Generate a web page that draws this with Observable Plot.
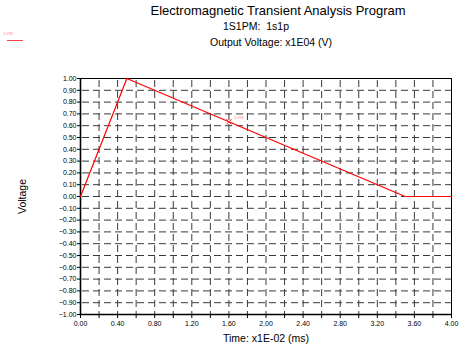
<!DOCTYPE html>
<html><head><meta charset="utf-8">
<script src="https://cdn.jsdelivr.net/npm/d3@7"></script>
<script src="https://cdn.jsdelivr.net/npm/@observablehq/plot@0.6"></script>
<style>
body{margin:0;background:#fff;font-family:"Liberation Sans",Arial,sans-serif;}
#wrap{position:relative;width:460px;height:353px;}
#head{position:relative;width:460px;height:55px;}
.t{position:absolute;white-space:pre;color:#000;transform:translateX(-50%);line-height:1;}
</style></head><body>
<div id="wrap"><div id="head">
<div class="t" style="left:278px;top:4px;font-size:13px">Electromagnetic Transient Analysis Program</div>
<div class="t" style="left:256px;top:21px;font-size:10.5px">1S1PM:  1s1p</div>
<div class="t" style="left:271px;top:37px;font-size:10.5px">Output Voltage: x1E04 (V)</div>
<div style="position:absolute;left:3px;top:31px;font-size:4px;color:#ff8080">1.VW</div>
<div style="position:absolute;left:7px;top:40px;width:16px;height:1px;background:#ff4040"></div>
</div>
<div id="chart"></div></div>
<script>
const timeVals = [0.0, 0.5, 3.5, 4.0];
const voltVals = [0.0, 1.0, 0.0, 0.0];
const markerTime = [1.6];
const markerVolt = [0.633];
const markerLabel = ["1.VW"];
const yTicks = d3.range(-10, 11).map(i => i / 10);
const xTicks = d3.range(0, 21).map(i => i / 5);
const xLabelEvery = 2;

const lineData = timeVals.map((t, i) => ({t, v: voltVals[i]}));
const markData = markerTime.map((t, i) => ({t, v: markerVolt[i], label: markerLabel[i]}));
const gridY = yTicks.filter(v => Math.abs(v) < 0.999);
const gridX = xTicks.filter(v => v > 0.001 && v < 3.999);

const chart = Plot.plot({
  width: 460,
  height: 298,
  marginLeft: 80,
  marginRight: 9,
  marginTop: 23,
  marginBottom: 39,
  style: {fontFamily: "Liberation Sans, Arial, sans-serif", background: "#fff", color: "#000"},
  x: {domain: [0, 4]},
  y: {domain: [-1, 1]},
  marks: [
    Plot.ruleY(gridY, {stroke: "#3a3a3a", strokeWidth: 1, strokeDasharray: "7,4", strokeDashoffset: -2}),
    Plot.ruleX(gridX, {stroke: "#3a3a3a", strokeWidth: 1, strokeDasharray: "7,4", strokeDashoffset: -2}),
    Plot.frame({stroke: "#000", strokeWidth: 1}),
    Plot.ruleX([0], {stroke: "#000", strokeWidth: 1.6}),
    Plot.ruleY([-1], {stroke: "#000", strokeWidth: 1.6}),
    Plot.axisY({ticks: yTicks, tickFormat: d3.format(".2f"), tickSize: 3, tickPadding: 1, fontSize: 7,
      label: "Voltage", labelAnchor: "center", labelArrow: "none", labelOffset: 62}),
    Plot.axisX({ticks: xTicks, tickFormat: (d, i) => (Math.round(d * 5) % xLabelEvery === 0 ? d3.format(".2f")(d) : ""),
      tickSize: 4, tickPadding: 3, fontSize: 7,
      label: "Time: x1E-02 (ms)", labelAnchor: "center", labelArrow: "none", labelOffset: 27}),
    Plot.line(lineData, {x: "t", y: "v", stroke: "#ff0000", strokeWidth: 1.2}),
    Plot.dot(markData, {x: "t", y: "v", symbol: "times", r: 2.5, stroke: "#ff2020", strokeWidth: 1}),
    Plot.text(markData, {x: "t", y: "v", text: "label", dx: 5, dy: -4, fontSize: 4, fill: "#ff8080", textAnchor: "start"})
  ]
});
chart.querySelectorAll("g[aria-label='y-axis label'] text, g[aria-label='x-axis label'] text").forEach(t => t.setAttribute("font-size", "10.5"));
document.getElementById("chart").appendChild(chart);
</script>
</body></html>
